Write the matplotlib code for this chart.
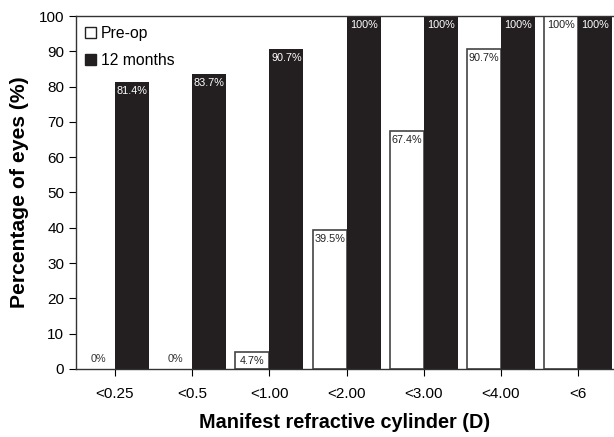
import matplotlib
matplotlib.use("Agg")
import matplotlib.pyplot as plt
from matplotlib.patches import Patch
import numpy as np

plt.rcParams["font.family"] = ["Liberation Sans", "DejaVu Sans"]

categories = ["<0.25", "<0.5", "<1.00", "<2.00", "<3.00", "<4.00", "<6"]
preop = [0, 0, 4.7, 39.5, 67.4, 90.7, 100]
months12 = [81.4, 83.7, 90.7, 100, 100, 100, 100]
preop_labels = ["0%", "0%", "4.7%", "39.5%", "67.4%", "90.7%", "100%"]
m12_labels = ["81.4%", "83.7%", "90.7%", "100%", "100%", "100%", "100%"]

dark = "#231f20"
fig = plt.figure(figsize=(6.14, 4.37), dpi=100)
ax = fig.add_axes([0.1238, 0.156, 0.8762, 0.807])
x = np.arange(len(categories))
w = 0.44
edge_w = [0 if v == 0 else 1.2 for v in preop]
ax.bar(x - w / 2, preop, w, color="white", edgecolor="#444444", linewidth=edge_w)
ax.bar(x + w / 2, months12, w, color=dark, edgecolor=dark, linewidth=0)

for i in range(len(x)):
    yv = preop[i]
    if yv == 0:
        ax.text(x[i] - w / 2, 1.5, preop_labels[i], ha="center", va="bottom", fontsize=7.8, color="#333333")
    else:
        ax.text(x[i] - w / 2, yv - 1.2, preop_labels[i], ha="center", va="top", fontsize=7.8, color="#222222")
    ax.text(x[i] + w / 2, months12[i] - 1.2, m12_labels[i], ha="center", va="top", fontsize=7.8, color="white")

ax.set_xlim(-0.505, 6.465)
ax.set_ylim(0, 100)
ax.set_yticks(np.arange(0, 101, 10))
ax.set_xticks(x)
ax.set_xticklabels(categories, fontsize=11)
ax.tick_params(axis="y", labelsize=11, direction="out", length=5)
ax.tick_params(axis="x", direction="out", length=5, pad=8)
for s in ["top", "left", "bottom"]:
    ax.spines[s].set_color("#333333")
    ax.spines[s].set_linewidth(1.0)
ax.spines["right"].set_visible(False)
ax.set_ylabel("Percentage of eyes (%)", fontsize=15.2, fontweight="bold", labelpad=7)
ax.set_xlabel("Manifest refractive cylinder (D)", fontsize=14.3, fontweight="bold", labelpad=9)
handles = [Patch(facecolor="white", edgecolor="#222222", linewidth=1.0, label="Pre-op"),
           Patch(facecolor=dark, edgecolor=dark, label="12 months")]
ax.legend(handles=handles, loc="upper left", frameon=False, fontsize=11.3, handlelength=0.7,
          handleheight=0.7, handletextpad=0.3, borderaxespad=0.2, labelspacing=0.8)
fig.savefig("out.png", dpi=100)
